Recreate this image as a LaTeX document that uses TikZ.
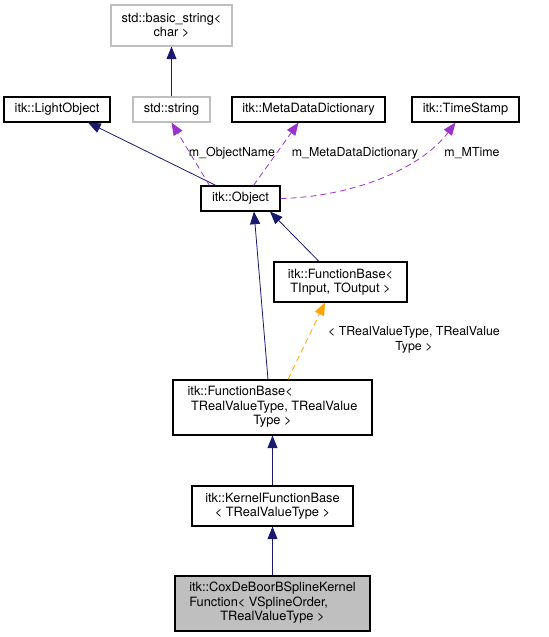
\documentclass[tikz,border=0pt]{standalone}
\usepackage{fontspec}
\setmainfont{TeX Gyre Heros}
\usepackage{xcolor}
\usepackage{tikz}
\usetikzlibrary{arrows.meta, calc}

\definecolor{inhblue}{HTML}{191970}
\definecolor{usepurple}{HTML}{9A32CD}
\definecolor{tmplorange}{HTML}{FFA500}
\definecolor{extgray}{HTML}{BFBFBF}

\newcommand{\lastline}[1]{\multicolumn{1}{@{}c@{}}{#1}}

\begin{document}
\begin{tikzpicture}[
        x=0.75pt, y=-0.75pt,
        font=\fontsize{9.6}{10.9}\selectfont,
        cls/.style={rectangle, draw=black, line width=0.8pt, inner sep=0pt, align=center},
        extcls/.style={cls, draw=extgray},
        inh/.style={-{Triangle[length=9.5pt, width=7.5pt]}, inhblue, line width=0.6pt},
        usage/.style={-{Triangle[length=9.5pt, width=7.5pt]}, usepurple, line width=0.6pt, dash pattern=on 4.5pt off 3pt},
        tmpl/.style={-{Triangle[length=9.5pt, width=7.5pt]}, tmplorange, line width=0.6pt, dash pattern=on 4.5pt off 3pt},
        lbl/.style={inner sep=0pt, align=center, font=\fontsize{9.3}{10.9}\selectfont}
    ]
        \useasboundingbox (0,0) rectangle (549,637);

        % Classes
        \node[extcls, minimum width=121*0.75pt, minimum height=41*0.75pt] (basicstr) at (171.5,25.5) {std::basic\_string<\\char >};
        \node[cls, minimum width=106*0.75pt, minimum height=25*0.75pt] (lightobj) at (57,109.5) {itk::LightObject};
        \node[extcls, minimum width=77*0.75pt, minimum height=25*0.75pt] (stdstring) at (171.5,109.5) {std::string};
        \node[cls, minimum width=153*0.75pt, minimum height=25*0.75pt] (metadict) at (308.5,109.5) {itk::MetaDataDictionary};
        \node[cls, minimum width=107*0.75pt, minimum height=25*0.75pt] (timestamp) at (465.5,109.5) {itk::TimeStamp};
        \node[cls, minimum width=79*0.75pt, minimum height=25*0.75pt] (object) at (240.5,198.5) {itk::Object};
        \node[cls, minimum width=133*0.75pt, minimum height=40*0.75pt] (fbinout) at (340.5,282) {itk::FunctionBase<\\ TInput, TOutput >};
        \node[cls, minimum width=199*0.75pt, minimum height=55*0.75pt] (fbreal) at (272.5,407.5)
            {\begin{tabular}{@{}l@{}}itk::FunctionBase<\\\ TRealValueType, TRealValue\\\lastline{Type >}\end{tabular}};
        \node[cls, minimum width=161*0.75pt, minimum height=40*0.75pt] (kernel) at (272.5,506) {itk::KernelFunctionBase\\< TRealValueType >};
        \node[cls, fill=extgray, minimum width=195*0.75pt, minimum height=55*0.75pt] (coxdeboor) at (272.5,603.5)
            {\begin{tabular}{@{}l@{}}itk::CoxDeBoorBSplineKernel\\Function< VSplineOrder,\\\lastline{TRealValueType >}\end{tabular}};

        % Inheritance
        \draw[inh] (stdstring) -- (basicstr);
        \draw[inh] ($(object.north)+(-24.5,0)$) -- ($(lightobj.south)+(31,0)$);
        \draw[inh] ($(fbinout.north)+(-21.5,0)$) -- ($(object.south)+(29.5,0)$);
        \draw[inh] ($(fbreal.north)+(-4.5,0)$) -- ($(object.south)+(13.5,0)$);
        \draw[inh] (kernel) -- (fbreal);
        \draw[inh] (coxdeboor) -- (kernel);

        % Template instance
        \draw[tmpl] ($(fbreal.north)+(15.5,0)$) -- ($(fbinout.south)+(-15.5,0)$);
        \node[lbl] (tmpllbl) at (414,340) {< TRealValueType, TRealValue\\Type >};

        % Members
        \draw[usage] ($(object.north)+(-31,0)$) -- (stdstring.south);
        \draw[usage] ($(object.north)+(13,0)$) -- ($(metadict.south)+(-10,0)$);
        \draw[usage] (object.east) .. controls (350,197) and (420,170) .. ($(timestamp.south)+(-10,0)$);
        \node[lbl] (namelbl) at (232,153) {m\_ObjectName};
        \node[lbl] (dictlbl) at (355,153) {m\_MetaDataDictionary};
        \node[lbl] (timelbl) at (472,153) {m\_MTime};

    \end{tikzpicture}
\end{document}
